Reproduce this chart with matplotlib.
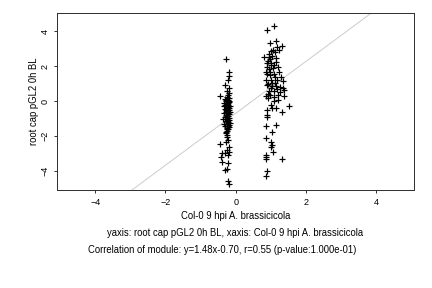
import matplotlib
matplotlib.use("Agg")
import matplotlib.pyplot as plt
import numpy as np

plt.rcParams['font.family'] = ['Liberation Sans', 'DejaVu Sans']

# first group (around x = -0.25)
x1 = [-0.28, -0.20, -0.20, -0.21, -0.31, -0.20, -0.44, -0.20, -0.25, -0.18,
      -0.30, -0.22, -0.27, -0.19, -0.33, -0.24, -0.21, -0.29, -0.17, -0.26,
      -0.22, -0.31, -0.19, -0.25, -0.28, -0.20, -0.23, -0.18, -0.27, -0.22,
      -0.30, -0.20, -0.36, -0.24, -0.19, -0.28, -0.22, -0.25, -0.20, -0.29,
      -0.23, -0.26, -0.21, -0.24, -0.27, -0.28, -0.24, -0.44, -0.20, -0.24,
      -0.39, -0.29, -0.41, -0.23, -0.40, -0.21, -0.25, -0.29, -0.23, -0.19,
      -0.23, -0.26, -0.19, -0.32, -0.17, -0.29, -0.17, -0.33, -0.23, -0.21,
      -0.27, -0.24, -0.18, -0.26, -0.22, -0.27, -0.20, -0.34, -0.21, -0.25,
      -0.28, -0.19]
y1 = [2.40, 1.68, 1.43, 1.20, 0.92, 0.76, 0.29, 0.44, 0.25, 0.20,
      0.10, 0.05, -0.02, -0.05, -0.10, -0.15, -0.20, -0.25, -0.30, -0.35,
      -0.40, -0.45, -0.50, -0.55, -0.60, -0.65, -0.70, -0.75, -0.80, -0.85,
      -0.90, -0.95, -1.03, -1.05, -1.10, -1.15, -1.20, -1.28, -1.35, -1.40,
      -1.45, -1.52, -1.60, -1.68, -1.75, -1.85, -2.04, -2.46, -2.60, -2.80,
      -2.95, -2.99, -3.18, -3.05, -3.50, -3.56, -3.85, -3.94, -4.57, -4.74,
      0.35, 0.60, 0.00, -0.30, -0.60, -1.00, -1.25, -1.30, -0.10, 0.15,
      -0.52, -0.88, -1.50, -1.95, -2.20, -2.35, -2.90, -0.70, -0.32, -1.62,
      0.05, -0.42]

# second group (around x = 1.0)
x2 = [1.10, 0.90, 1.14, 0.97, 1.32, 1.18, 1.06, 1.23, 1.02, 0.82,
      0.95, 0.99, 1.16, 0.88, 1.01, 1.09, 0.89, 0.86, 0.99, 1.23,
      0.97, 1.13, 0.86, 1.01, 1.18, 1.35, 0.89, 1.03, 1.13, 1.27,
      1.36, 1.18, 0.87, 0.99, 1.37, 1.08, 1.22, 1.10, 1.37, 1.52,
      0.89, 1.05, 1.16, 1.01, 1.32, 0.89, 0.89, 1.14, 0.86, 1.05,
      0.86, 1.01, 1.04, 1.01, 1.07, 0.87, 0.87, 0.87, 1.33, 0.89,
      0.86, 0.92, 1.05, 1.12, 0.94, 1.07, 1.20, 0.90, 1.10, 1.05,
      0.93, 1.15, 0.95, 1.08, 1.25, 0.91, 1.20, 1.02, 0.96, 1.14,
      0.93, 1.28, 1.00]
y2 = [4.30, 4.06, 3.43, 3.30, 3.16, 3.08, 2.92, 2.90, 2.86, 2.50,
      2.52, 2.43, 2.25, 2.15, 2.15, 2.05, 1.96, 1.68, 1.68, 1.64,
      1.48, 1.35, 1.20, 1.20, 1.20, 1.16, 0.91, 0.86, 1.02, 0.78,
      0.76, 0.67, 0.29, 0.34, 0.29, 0.25, 0.06, 0.02, 0.62, -0.29,
      -0.51, -0.42, -0.42, -0.23, -0.61, -0.80, -0.90, -1.37, -1.43, -1.77,
      -2.10, -2.33, -2.52, -2.62, -2.90, -3.05, -3.18, -3.30, -3.31, -3.98,
      -4.29, 2.30, 2.60, 2.80, 1.85, 1.90, 1.95, 1.55, 1.55, 1.05,
      1.00, 0.85, 0.60, 0.55, 0.50, 0.40, 0.35, 2.05, 2.70, 2.45,
      0.15, 1.35, 0.75]

slope, intercept = 1.48, -0.70
xlabel = "Col-0 9 hpi A. brassicicola"
ylabel = "root cap pGL2 0h BL"
caption1 = "yaxis: root cap pGL2 0h BL, xaxis: Col-0 9 hpi A. brassicicola"
caption2 = "Correlation of module: y=1.48x-0.70, r=0.55 (p-value:1.000e-01)"

fig = plt.figure(figsize=(6, 4), dpi=72)
ax = fig.add_axes([0.133, 0.34, 0.825, 0.615])

xlim = (-5.08, 5.08)
ylim = (-5.08, 5.03)
lx = np.array(xlim)
ax.plot(lx, slope * lx + intercept, color='#c8c8c8', lw=0.9, zorder=1)
ax.plot(x1 + x2, y1 + y2, '+', color='black', ms=5.5, mew=1.2, zorder=2)

ax.set_xlim(*xlim)
ax.set_ylim(*ylim)
ax.set_xticks([-4, -2, 0, 2, 4])
ax.set_yticks([-4, -2, 0, 2, 4])
ax.tick_params(direction='out', length=3, width=0.8, labelsize=9, pad=5)
for lab in ax.get_yticklabels():
    lab.set_rotation(90)
    lab.set_va('center')
for s in ax.spines.values():
    s.set_linewidth(1.0)
    s.set_color('#333333')

fs = 9.5
fig.text(235.5 / 432, 1 - 216 / 288, xlabel, ha='center', va='center', fontsize=fs)
fig.text(34 / 432, 1 - 101 / 288, ylabel, ha='center', va='center', rotation=90, fontsize=fs)
fig.text(235.5 / 432, 1 - 233 / 288, caption1, ha='center', va='center', fontsize=fs)
fig.text(222 / 432, 1 - 250 / 288, caption2, ha='center', va='center', fontsize=fs)

fig.savefig("out.png", dpi=72)
